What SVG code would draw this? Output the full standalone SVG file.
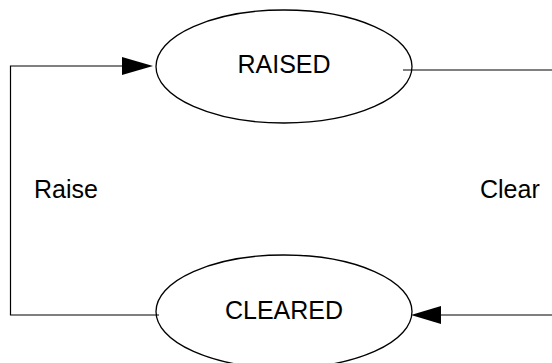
<svg xmlns="http://www.w3.org/2000/svg" width="552" height="363" viewBox="0 0 552 363">
<style>
.node{fill:none;stroke:#000;stroke-width:1.3}
.lbl{font-family:"Liberation Sans",Arial,sans-serif;font-size:25px;fill:#000}
.edge{fill:none;stroke:#000;stroke-width:1.2}
.head{fill:#000;stroke:none}
</style>
<rect width="552" height="363" fill="#fff"/>
<g id="connectors">
<path class="edge" d="M159,315 H10.5 V66 H124"/>
<polygon class="head" points="122,57 153,66 122,75"/>
<path class="edge" d="M403,70 H560 V315 H438"/>
<polygon class="head" points="441,306 411,315 441,324"/>
<text class="lbl" x="34" y="198">Raise</text>
<text class="lbl" x="480" y="198">Clear</text>
</g>
<g id="raised">
<ellipse class="node" cx="284" cy="66.5" rx="128" ry="56.5"/>
<text class="lbl" x="284" y="73" text-anchor="middle">RAISED</text>
</g>
<g id="cleared">
<ellipse class="node" cx="284" cy="311.5" rx="128" ry="56.5"/>
<text class="lbl" x="284" y="319" text-anchor="middle">CLEARED</text>
</g>
</svg>
